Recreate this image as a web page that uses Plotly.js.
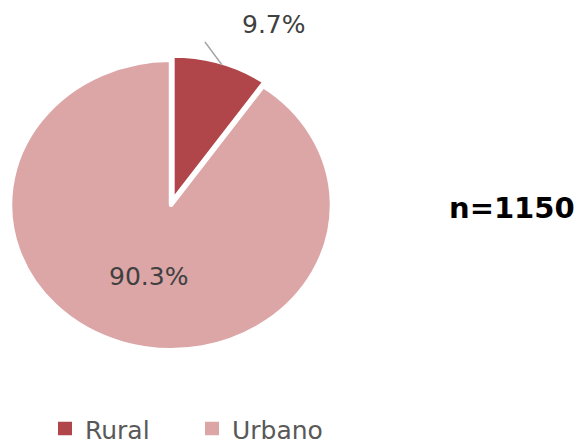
<!DOCTYPE html>
<html><head><meta charset="utf-8">
<script src="https://cdn.plot.ly/plotly-3.0.1.min.js"></script>
<style>
html,body{margin:0;padding:0;background:#fff;}
#chart{width:583px;height:444px;}
</style>
</head><body><div id="chart"></div>
<script>
// ---- data ----
const categories = ['Rural', 'Urbano'];
const values = [9.7, 90.3];
const sampleLabel = 'n=1150';

// ---- style ----
const sliceColors = ['#B0464A', '#DCA6A7'];
const pulls = [0.03, 0];
const W = 583, H = 444;
const CX = 171, CY = 205, RY = 145, SX = 1.11;   // pie centre/radius (px), horizontal stretch
const maxPull = Math.max(...pulls);
const half = RY * (1 + maxPull);
const dom = { x: [(CX - half) / W, (CX + half) / W], y: [(H - CY - half) / H, (H - CY + half) / H] };
const labelPx = [[274, 25], [148, 276]];          // label positions (px)
const fmt = v => v.toFixed(1) + '%';
const FONT = 'DejaVu Sans, sans-serif';
const LEGEND_SQUARE = 'M9,8.5H-9V-9H9Z';

const trace = {
  type: 'pie',
  labels: categories,
  values: values,
  sort: false,
  direction: 'clockwise',
  rotation: 0,
  pull: pulls,
  marker: { colors: sliceColors, line: { color: '#ffffff', width: 4 } },
  textinfo: 'none',
  hoverinfo: 'none',
  domain: dom,
  automargin: false
};

const annotations = values.map((v, i) => ({
  xref: 'paper', yref: 'paper',
  x: labelPx[i][0] / W, y: 1 - labelPx[i][1] / H,
  xanchor: 'center', yanchor: 'middle',
  text: fmt(v), showarrow: false,
  font: { family: FONT, size: 25, color: '#404040' }
}));
annotations.push({
  xref: 'paper', yref: 'paper', x: 512 / W, y: 1 - 208 / H,
  xanchor: 'center', yanchor: 'middle', text: '<b>' + sampleLabel + '</b>', showarrow: false,
  font: { family: FONT, size: 29, color: '#000000' }
});

const layout = {
  width: W, height: H,
  margin: { l: 0, r: 0, t: 0, b: 0, autoexpand: false },
  paper_bgcolor: '#ffffff', plot_bgcolor: '#ffffff',
  showlegend: true,
  legend: {
    orientation: 'h', x: 45 / W, xanchor: 'left', y: 1 - 406 / H, yanchor: 'top',
    font: { family: FONT, size: 25, color: '#595959' },
    entrywidth: 102, entrywidthmode: 'pixels', traceorder: 'normal'
  },
  annotations: annotations,
  shapes: [{ type: 'line', xref: 'paper', yref: 'paper', x0: 205 / W, y0: 1 - 42 / H, x1: 222 / W, y1: 1 - 65 / H,
             line: { color: '#A6A6A6', width: 1.5 } }],
  hovermode: false
};

function adjust(gd) {
  const cd = gd.calcdata && gd.calcdata[0] && gd.calcdata[0][0];
  if (cd) {
    const cx = cd.cx;
    gd.querySelectorAll('.pielayer .trace').forEach(g => {
      if (g.getAttribute('data-stretched')) return;
      const t = g.getAttribute('transform') || '';
      g.setAttribute('transform', `${t} translate(${cx},0) scale(${SX},1) translate(${-cx},0)`);
      g.setAttribute('data-stretched', '1');
    });
  }
  gd.querySelectorAll('.legendpoints path.legendpie').forEach(p => {
    if (p.getAttribute('d') !== LEGEND_SQUARE) p.setAttribute('d', LEGEND_SQUARE);
  });
}

const gdDiv = document.getElementById('chart');
const obs = new MutationObserver(() => adjust(gdDiv));
obs.observe(gdDiv, { childList: true, subtree: true, attributes: true, attributeFilter: ['d', 'transform'] });

Plotly.newPlot(gdDiv, [trace], layout, { displayModeBar: false, staticPlot: true }).then(gd => {
  adjust(gd);
});
</script>
</body></html>
